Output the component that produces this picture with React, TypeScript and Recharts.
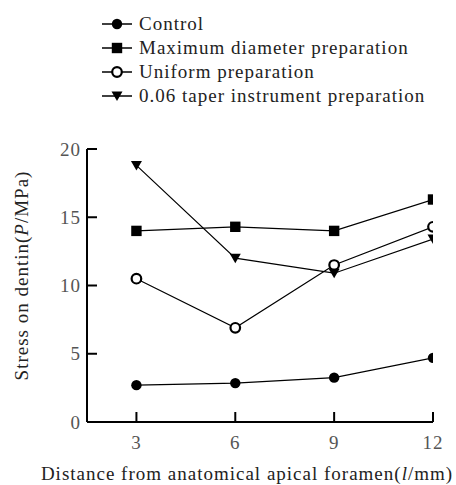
import { LineChart, Line, XAxis, YAxis } from 'recharts';

const distances = [3, 6, 9, 12];
const control = [2.7, 2.85, 3.25, 4.7];
const maxDiameter = [14.0, 14.3, 14.0, 16.3];
const uniform = [10.5, 6.9, 11.5, 14.3];
const taper = [18.8, 12.0, 10.9, 13.4];
const xTicks = [3, 6, 9, 12];
const yTicks = [0, 5, 10, 15, 20];

const data = distances.map((d, i) => ({
  d,
  control: control[i],
  maxDiameter: maxDiameter[i],
  uniform: uniform[i],
  taper: taper[i],
}));

type Shape = 'circle' | 'square' | 'open' | 'triangle';

const series: { key: string; name: string; shape: Shape }[] = [
  { key: 'control', name: 'Control', shape: 'circle' },
  { key: 'maxDiameter', name: 'Maximum diameter preparation', shape: 'square' },
  { key: 'uniform', name: 'Uniform preparation', shape: 'open' },
  { key: 'taper', name: '0.06 taper instrument preparation', shape: 'triangle' },
];

const FONT = "'Liberation Serif', 'Times New Roman', serif";

function Marker({ cx, cy, shape }: { cx: number; cy: number; shape: Shape }) {
  if (cx == null || cy == null) return null;
  switch (shape) {
    case 'circle':
      return <circle cx={cx} cy={cy} r={5.2} fill="#000" />;
    case 'open':
      return <circle cx={cx} cy={cy} r={4.8} fill="#fff" stroke="#000" strokeWidth={2.2} />;
    case 'square':
      return <rect x={cx - 5.2} y={cy - 5.2} width={10.4} height={10.4} fill="#000" />;
    default:
      return <path d={`M${cx - 5.5},${cy - 4.5} L${cx + 5.5},${cy - 4.5} L${cx},${cy + 5} Z`} fill="#000" />;
  }
}

function LegendBox() {
  return (
    <div
      style={{
        position: 'absolute',
        left: 102,
        top: 12,
        fontFamily: FONT,
        fontSize: 19,
        letterSpacing: 1,
        color: '#222',
      }}
    >
      {series.map((s) => (
        <div key={s.key} style={{ height: 24, display: 'flex', alignItems: 'center', whiteSpace: 'nowrap' }}>
          <svg width={30} height={16} style={{ marginRight: 7 }}>
            <line x1={0} x2={30} y1={8} y2={8} stroke="#000" strokeWidth={1.5} />
            <Marker cx={15} cy={8} shape={s.shape} />
          </svg>
          <span>{s.name}</span>
        </div>
      ))}
    </div>
  );
}

export default function App() {
  return (
    <div style={{ position: 'absolute', left: 0, top: 0, width: 456, height: 485, background: '#fff' }}>
      <LineChart width={456} height={485} data={data} margin={{ top: 149, right: 23, bottom: 33, left: 27 }}>
        <XAxis
          dataKey="d"
          type="number"
          domain={[1.5, 12]}
          ticks={xTicks}
          allowDataOverflow
          height={30}
          axisLine={{ stroke: '#000', strokeWidth: 2 }}
          tickLine={{ stroke: '#000', strokeWidth: 2 }}
          tickSize={-10}
          tickMargin={24}
          tick={{ fill: '#555', fontSize: 19, fontFamily: FONT, letterSpacing: 1 }}
          label={{
            content: (p: any) => {
              const vb = p.viewBox;
              return (
                <text
                  x={vb.x + vb.width / 2 - 13}
                  y={vb.y + 51}
                  textAnchor="middle"
                  dominantBaseline="central"
                  fontFamily={FONT}
                  fontSize={19}
                  letterSpacing={1}
                  fill="#222"
                >
                  Distance from anatomical apical foramen(<tspan fontStyle="italic">l</tspan>/mm)
                </text>
              );
            },
          }}
        />
        <YAxis
          type="number"
          domain={[0, 20]}
          ticks={yTicks}
          width={60}
          axisLine={{ stroke: '#000', strokeWidth: 2 }}
          tickLine={{ stroke: '#000', strokeWidth: 2 }}
          tickSize={-10}
          tickMargin={16}
          tick={{ fill: '#555', fontSize: 19, fontFamily: FONT, letterSpacing: 1 }}
          label={{
            content: (p: any) => {
              const vb = p.viewBox;
              const cx = 21;
              const cy = vb.y + vb.height / 2 - 10;
              return (
                <text
                  x={cx}
                  y={cy}
                  transform={`rotate(-90 ${cx} ${cy})`}
                  textAnchor="middle"
                  dominantBaseline="central"
                  fontFamily={FONT}
                  fontSize={19}
                  letterSpacing={1}
                  fill="#222"
                >
                  Stress on dentin(<tspan fontStyle="italic">P</tspan>/MPa)
                </text>
              );
            },
          }}
        />
        {series.map((s) => (
          <Line
            key={s.key}
            dataKey={s.key}
            name={s.name}
            stroke="#000"
            strokeWidth={1.2}
            isAnimationActive={false}
            dot={(p: any) => <Marker key={`${s.key}-${p.index}`} cx={p.cx} cy={p.cy} shape={s.shape} />}
            activeDot={false}
          />
        ))}
      </LineChart>
      <LegendBox />
    </div>
  );
}
